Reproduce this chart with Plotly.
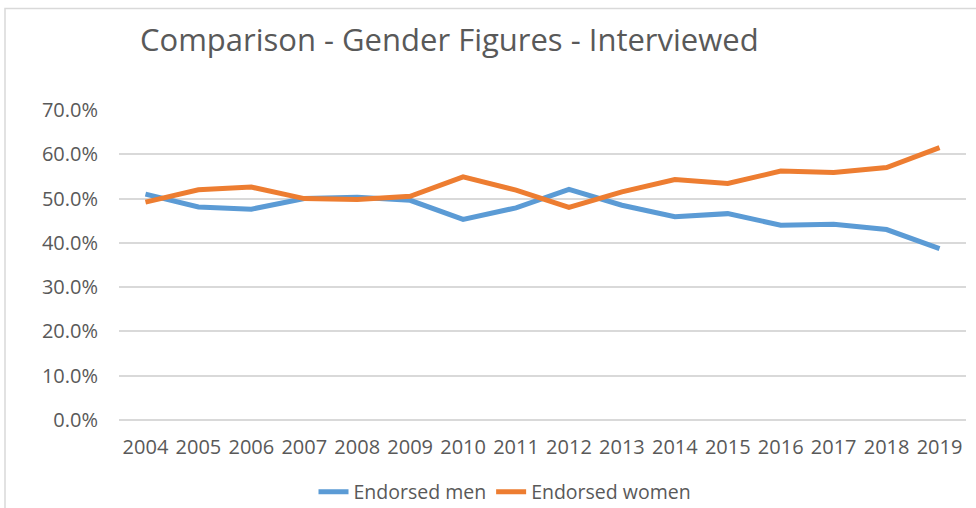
import plotly.graph_objects as go

years = [str(y) for y in range(2004, 2020)]
men = [0.510, 0.481, 0.476, 0.500, 0.503, 0.496, 0.453, 0.479, 0.521, 0.485, 0.459, 0.466, 0.440, 0.442, 0.430, 0.387]
women = [0.492, 0.520, 0.526, 0.500, 0.498, 0.505, 0.549, 0.519, 0.480, 0.515, 0.543, 0.534, 0.562, 0.559, 0.570, 0.615]
y_ticks = [0, 0.1, 0.2, 0.3, 0.4, 0.5, 0.6, 0.7]

FONT = "Open Sans"
GREY = "#595959"

fig = go.Figure()
fig.add_trace(go.Scatter(x=years, y=men, mode="lines", name="Endorsed men",
                         line=dict(color="#5B9BD5", width=5)))
fig.add_trace(go.Scatter(x=years, y=women, mode="lines", name="Endorsed women",
                         line=dict(color="#ED7D31", width=5)))

L, R, T, B = 119, 10, 110, 88
W, H = 976, 508
pw, ph = W - L - R, H - T - B

def px(x):
    return (x - L) / pw

def py(y):
    return (H - B - y) / ph

fig.add_shape(type="rect", xref="paper", yref="paper",
              x0=px(5), x1=px(990), y0=py(520), y1=py(8.5),
              line=dict(color="#D9D9D9", width=1.5), fillcolor="rgba(0,0,0,0)", layer="below")

fig.update_layout(
    width=W, height=H,
    margin=dict(l=L, r=R, t=T, b=B, autoexpand=False),
    paper_bgcolor="white", plot_bgcolor="white",
    font=dict(family=FONT, color=GREY, size=16),
    title=dict(text="Comparison - Gender Figures - Interviewed",
               x=140 / W, xanchor="left", xref="container",
               y=1 - 40 / H, yanchor="middle", yref="container",
               font=dict(family=FONT, size=31, color=GREY)),
    xaxis=dict(type="category", range=[-0.5, 15.5], showgrid=False, zeroline=False,
               showline=False, ticks="", ticklabelstandoff=13,
               tickfont=dict(size=20, color=GREY)),
    yaxis=dict(range=[0, 0.7], tickvals=y_ticks, tickformat=".1%",
               showgrid=True, gridcolor="#D9D9D9", gridwidth=1.5,
               zeroline=True, zerolinecolor="#D9D9D9", zerolinewidth=1.5,
               ticks="", ticklabelstandoff=20, tickfont=dict(size=20, color=GREY)),
    legend=dict(orientation="h", x=505 / W, xref="container", xanchor="center",
                y=1 - 492 / H, yref="container", yanchor="middle",
                font=dict(size=19.5, color=GREY), bgcolor="rgba(0,0,0,0)"),
    showlegend=True,
)

fig.write_html("out.html", config={"displayModeBar": False},
               post_script="document.body.style.margin='0';document.body.style.overflow='hidden';")
